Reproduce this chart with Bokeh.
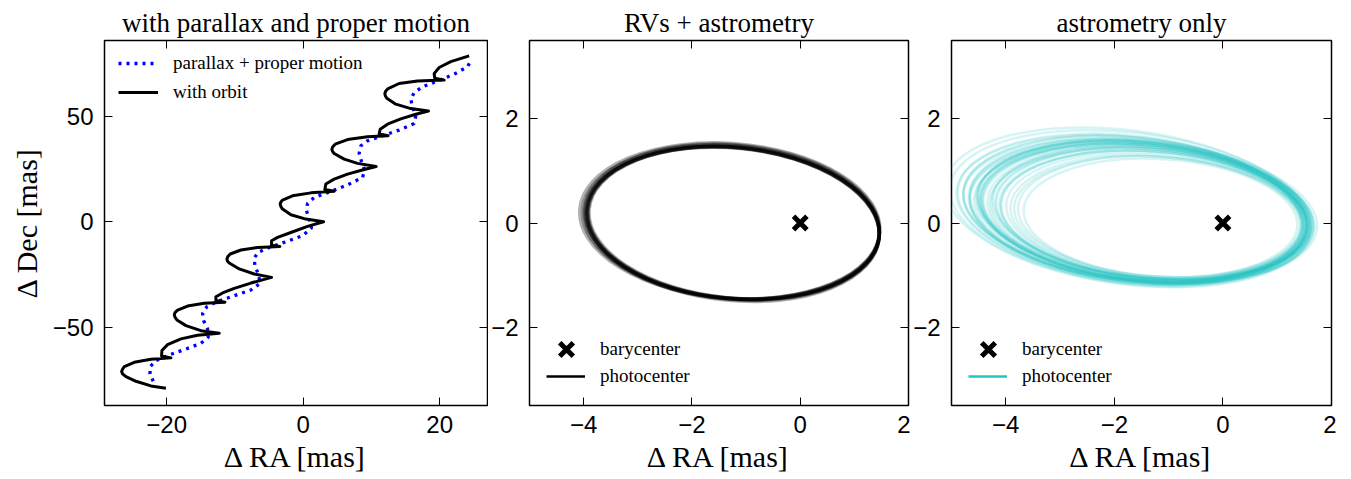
from bokeh.plotting import figure
from bokeh.layouts import row
from bokeh.models import (LinearAxis, FixedTicker, CustomJSTickFormatter, Legend,
                          LegendItem, ColumnDataSource, Range1d)
from bokeh.embed import file_html
from bokeh.resources import INLINE

SERIF = "Liberation Serif"
SANS = "Liberation Sans"
TEAL = "#22c4c4"

# ---------------- data ----------------
titles = ["with parallax and proper motion", "RVs + astrometry", "astrometry only"]
xlabel = "\u0394 RA [mas]"
ylabel = "\u0394 Dec [mas]"

# panel 1: parallax + proper motion track (mas)
pm_x = [-21.96, -22.44, -22.39, -21.57, -19.61, -17.17, -14.98, -13.90, -14.00, -14.59,
        -14.73, -14.10, -12.54, -10.10, -7.66, -6.29, -6.58, -7.07, -7.17, -6.58,
        -4.97, -2.53, -0.09, 1.22, 0.88, 0.49, 0.64, 1.62, 4.06, 6.50,
        8.69, 9.03, 8.54, 8.20, 8.45, 9.42, 11.62, 14.06, 16.26, 16.50,
        16.01, 15.77, 16.26, 17.48, 19.67, 22.11, 24.06, 24.65]
pm_y = [-75.7, -72.2, -68.7, -65.9, -63.2, -60.4, -57.7, -54.8, -50.9, -46.9,
        -43.5, -40.3, -37.8, -35.1, -32.4, -29.2, -24.8, -20.9, -17.2, -14.5,
        -12.2, -9.5, -6.6, -3.0, 1.3, 5.2, 8.7, 11.5, 14.4, 17.5,
        21.0, 24.5, 28.6, 32.4, 36.0, 38.4, 40.8, 43.5, 46.6, 50.2,
        54.5, 58.1, 61.3, 64.0, 66.8, 70.0, 73.5, 76.8]

# panel 1: track including the orbital motion (mas)
orbit_x = [-20.10, -22.30, -24.49, -25.96, -26.46, -26.59, -26.46, -26.20, -24.74, -22.30, -19.37,
           -20.74, -20.69, -19.86, -17.90, -15.47, -12.29,
           -14.98, -17.17, -18.49, -18.78, -18.88, -18.75, -18.39, -16.93, -14.49, -11.46,
           -12.78, -12.78, -11.80, -10.10, -7.66, -4.63,
           -7.17, -9.36, -10.83, -11.08, -11.17, -11.03, -10.68, -9.12, -6.68, -3.41,
           -4.63, -4.63, -3.75, -1.80, 0.64, 2.98,
           0.40, -1.80, -3.02, -3.26, -3.36, -3.26, -3.02, -1.56, 1.13, 4.54,
           3.18, 3.32, 4.54, 6.50, 8.94, 10.69,
           7.96, 6.01, 4.54, 4.30, 4.20, 4.34, 4.69, 6.50, 9.42, 12.45,
           11.13, 11.28, 12.35, 14.30, 16.50, 18.35,
           15.77, 13.57, 12.25, 12.05, 11.96, 12.10, 12.45, 14.06, 16.74, 20.65,
           19.28, 19.18, 19.92, 21.62, 24.31]
orbit_y = [-79.0, -77.9, -75.7, -73.5, -72.2, -71.1, -70.0, -68.7, -66.7, -65.3, -64.6,
           -63.7, -61.1, -58.3, -55.6, -53.9, -52.9,
           -51.7, -49.3, -46.6, -45.3, -44.1, -43.0, -41.9, -40.0, -38.7, -38.2,
           -37.4, -35.6, -33.8, -31.6, -29.1, -26.4,
           -24.8, -22.4, -19.6, -18.7, -17.7, -16.5, -15.3, -13.4, -12.2, -11.7,
           -11.2, -9.0, -7.4, -5.1, -2.2, 0.0,
           1.26, 3.3, 6.0, 7.2, 8.4, 9.4, 10.3, 12.3, 13.7, 14.5,
           15.3, 17.9, 20.2, 22.6, 24.8, 26.2,
           27.7, 29.7, 32.4, 33.4, 34.4, 35.6, 36.8, 39.0, 40.3, 40.8,
           41.7, 43.9, 46.3, 48.8, 51.0, 52.5,
           53.7, 55.8, 58.6, 59.7, 60.8, 62.0, 63.2, 65.6, 66.8, 67.2,
           68.1, 70.3, 73.2, 76.0, 78.7]

# barycenter
bary_x = [0.0]
bary_y = [0.0]

# panel 2: photocenter orbits (RVs + astrometry), ellipse parameters (mas, deg)
rv_cx = [-1.22, -1.23, -1.24, -1.24, -1.25, -1.26, -1.23, -1.27, -1.28, -1.25, -1.24, -1.30]
rv_cy = [0.00, 0.00, 0.01, -0.01, 0.00, 0.02, -0.01, 0.02, 0.03, 0.00, -0.02, 0.04]
rv_w = [5.38, 5.40, 5.42, 5.42, 5.44, 5.46, 5.40, 5.48, 5.50, 5.44, 5.42, 5.56]
rv_h = [2.88, 2.90, 2.90, 2.92, 2.91, 2.92, 2.89, 2.94, 2.95, 2.90, 2.93, 2.97]
rv_ang = [-5.6, -5.4, -5.3, -5.5, -5.2, -5.0, -5.7, -4.9, -4.6, -5.4, -5.8, -4.4]

# panel 3: photocenter orbits (astrometry only)
ast_cx = [-1.45, -1.40, -1.55, -1.30, -1.60, -1.35, -1.50, -1.20, -1.70, -1.42,
          -1.48, -1.38, -1.25, -1.65, -1.52, -1.33, -1.45, -1.58, -1.15, -1.40,
          -1.62, -1.28, -1.47, -1.55, -1.36, -1.50, -1.75, -1.22, -1.44, -1.60,
          -1.32, -1.46, -1.40, -1.30, -1.68, -1.18]
ast_cy = [0.20, 0.18, 0.22, 0.15, 0.25, 0.20, 0.20, 0.12, 0.28, 0.18,
          0.22, 0.16, 0.14, 0.25, 0.20, 0.18, 0.24, 0.20, 0.10, 0.22,
          0.26, 0.15, 0.19, 0.23, 0.17, 0.21, 0.30, 0.12, 0.20, 0.24,
          0.16, 0.20, 0.22, 0.18, 0.26, 0.12]
ast_w = [6.05, 5.90, 6.30, 5.60, 6.40, 5.80, 6.20, 5.30, 6.70, 6.00,
         6.10, 5.85, 5.50, 6.55, 6.30, 5.75, 6.15, 6.20, 5.05, 6.10,
         6.35, 5.70, 5.95, 6.50, 5.65, 6.00, 6.80, 5.40, 6.25, 6.15,
         5.55, 6.05, 6.30, 5.95, 6.45, 5.20]
ast_h = [2.60, 2.55, 2.70, 2.45, 2.75, 2.50, 2.62, 2.30, 2.90, 2.58,
         2.65, 2.52, 2.40, 2.80, 2.68, 2.48, 2.62, 2.70, 2.25, 2.55,
         2.75, 2.45, 2.60, 2.72, 2.50, 2.62, 2.95, 2.35, 2.66, 2.70,
         2.42, 2.60, 2.68, 2.52, 2.82, 2.30]
ast_ang = [-5.5, -5.0, -6.0, -4.5, -6.5, -5.5, -5.0, -4.0, -7.0, -5.5,
           -6.0, -5.0, -4.5, -6.5, -5.5, -5.0, -6.0, -5.8, -3.5, -5.2,
           -6.2, -4.8, -5.4, -6.0, -5.0, -5.6, -7.5, -4.2, -5.8, -6.0,
           -4.6, -5.5, -5.8, -5.0, -6.8, -4.0]

ticks1_x = [-20, 0, 20]
ticks1_y = [-50, 0, 50]
ticks_x = [-4, -2, 0, 2]
ticks_y = [-2, 0, 2]

# ---------------- helpers ----------------
MINUS_JS = "return tick < 0 ? '\\u2212' + Math.abs(tick) : String(tick);"


def make_fig(title, width, left, right, xr, yr, xt, yt, ylab):
    p = figure(width=width, height=479, x_range=Range1d(*xr), y_range=Range1d(*yr),
               output_backend="svg", toolbar_location=None, tools="",
               min_border_left=left, min_border_right=right,
               min_border_top=40, min_border_bottom=74,
               background_fill_color="white", border_fill_color="white")
    p.title.text = title
    p.title.text_font = SERIF
    p.title.text_font_size = "27px"
    p.title.text_font_style = "normal"
    p.title.text_color = "black"
    p.title.align = "center"
    p.title.standoff = 6
    p.grid.grid_line_color = None
    p.outline_line_color = "black"
    p.outline_line_width = 1.5

    for ax, tk in ((p.xaxis, xt), (p.yaxis, yt)):
        ax.ticker = FixedTicker(ticks=tk)
        ax.formatter = CustomJSTickFormatter(code=MINUS_JS)
        ax.major_label_text_font = SANS
        ax.major_label_text_font_size = "24px"
        ax.major_label_text_color = "black"
        ax.major_tick_in = 8
        ax.major_tick_out = 0
        ax.major_tick_line_color = "black"
        ax.major_tick_line_width = 1
        ax.minor_tick_line_color = None
        ax.axis_line_color = None
        ax.axis_label_text_font = SERIF
        ax.axis_label_text_font_size = "30px"
        ax.axis_label_text_font_style = "normal"
        ax.axis_label_text_color = "black"
    p.xaxis.major_label_standoff = 10
    p.xaxis.axis_label = xlabel
    p.xaxis.axis_label_standoff = 4
    p.yaxis.major_label_standoff = 11
    if ylab:
        p.yaxis.axis_label = ylab
        p.yaxis.axis_label_standoff = 7

    # mirrored inward ticks on the right and top edges, without labels
    for loc, tk in (("right", yt), ("above", xt)):
        ax = LinearAxis(ticker=FixedTicker(ticks=tk), major_label_text_color=None,
                        major_label_standoff=0, major_tick_in=8, major_tick_out=0,
                        major_tick_line_color="black", major_tick_line_width=1,
                        minor_tick_line_color=None, axis_line_color=None)
        p.add_layout(ax, loc)
    return p


def legend(items, location, glyph_w, glyph_h, standoff, spacing=0):
    return Legend(items=items, location=location, margin=0, padding=0, spacing=spacing,
                  glyph_width=glyph_w, glyph_height=glyph_h, label_height=20,
                  label_standoff=standoff, label_text_font=SERIF,
                  label_text_font_size="19px", label_text_color="black",
                  border_line_color=None, background_fill_alpha=0)


# ---------------- panel 1 ----------------
p1 = make_fig(titles[0], 104 + 383 + 1, 104, 1, (-29.1, 27.0), (-87.2, 86.0),
              ticks1_x, ticks1_y, ylabel)
r_pm = p1.line(pm_x, pm_y, line_color="#0000ff", line_width=3.3, line_dash="3 5")
r_orb = p1.line(orbit_x, orbit_y, line_color="black", line_width=3, line_join="round")
p1.add_layout(legend([LegendItem(label="parallax + proper motion", renderers=[r_pm]),
                      LegendItem(label="with orbit", renderers=[r_orb])],
                     (14, 302), 40, 20, 15, spacing=7))


def orbit_panel(title, left, right, cx, cy, w, h, ang, color, alpha, width):
    p = make_fig(title, left + 383 + right, left, right, (-5, 2), (-3.5, 3.5),
                 ticks_x, ticks_y, None)
    src = ColumnDataSource(dict(x=cx, y=cy, w=w, h=h, a=ang))
    p.ellipse(x="x", y="y", width="w", height="h", angle="a", angle_units="deg",
              source=src, fill_color=None, line_color=color, line_alpha=alpha,
              line_width=width)
    r_b = p.scatter(bary_x, bary_y, marker="x", size=19, line_width=5, line_color="black")
    # legend proxy for the photocenter track (a single point draws nothing)
    r_l = p.line(bary_x, bary_y, line_color=color, line_width=2.5)
    p.add_layout(legend([LegendItem(label="barycenter", renderers=[r_b])],
                        (13, 32), 48, 48, 10))
    p.add_layout(legend([LegendItem(label="photocenter", renderers=[r_l])],
                        (17, 18), 39, 20, 15))
    return p


p2 = orbit_panel(titles[1], 37, 2, rv_cx, rv_cy, rv_w, rv_h, rv_ang, "black", 0.3, 3.5)
p3 = orbit_panel(titles[2], 38, 5, ast_cx, ast_cy, ast_w, ast_h, ast_ang, TEAL, 0.18, 2.5)

layout = row(p1, p2, p3)
with open("out.html", "w", encoding="utf-8") as f:
    f.write(file_html(layout, INLINE))
